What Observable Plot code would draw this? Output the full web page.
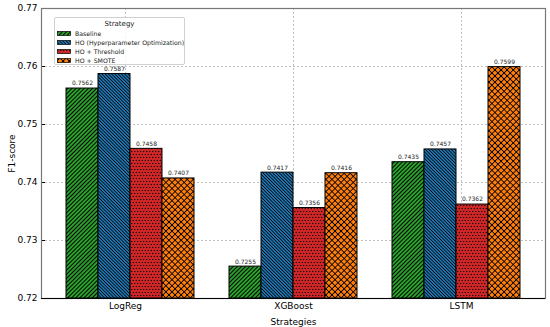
<!DOCTYPE html>
<html>
<head>
<meta charset="utf-8">
<script src="https://cdn.jsdelivr.net/npm/d3@7"></script>
<script src="https://cdn.jsdelivr.net/npm/@observablehq/plot@0.6"></script>
<style>
  html, body { margin: 0; padding: 0; background: #fff; }
  #wrap { position: relative; width: 550px; height: 327px; font-family: "DejaVu Sans", sans-serif; }
  #wrap > svg { position: absolute; left: 0; top: 0; }
  #legend { position: absolute; left: 54px; top: 17px; width: 131px; height: 48px; box-sizing: border-box;
    border: 1px solid #d0d0d0; border-radius: 2px; background: rgba(255,255,255,0.8); font-size: 6.2px; color: #222;
    white-space: nowrap; }
  #legend .title { text-align: center; margin-top: 1px; height: 10px; line-height: 10px; font-size: 7px; }
  #legend .row { display: flex; align-items: center; height: 9px; line-height: 9px; padding-left: 2px; }
  #legend .row svg { margin-right: 4px; flex: none; }
</style>
</head>
<body>
<svg width="0" height="0" style="position:absolute">
  <defs>
    <pattern id="p0" patternUnits="userSpaceOnUse" width="2.9" height="2.9" patternTransform="rotate(45)">
      <rect width="2.9" height="2.9" fill="#2ca02c"/>
      <line x1="1.45" y1="0" x2="1.45" y2="2.9" stroke="#000" stroke-width="0.95"/>
    </pattern>
    <pattern id="p1" patternUnits="userSpaceOnUse" width="2.3" height="2.3" patternTransform="rotate(-45)">
      <rect width="2.3" height="2.3" fill="#1f77b4"/>
      <line x1="1.15" y1="0" x2="1.15" y2="2.3" stroke="#000" stroke-width="0.8"/>
    </pattern>
    <pattern id="p2" patternUnits="userSpaceOnUse" width="3" height="6">
      <rect width="3" height="6" fill="#d62728"/>
      <circle cx="0.75" cy="1.5" r="0.7" fill="#000"/>
      <circle cx="2.25" cy="4.5" r="0.7" fill="#000"/>
    </pattern>
    <pattern id="p3" patternUnits="userSpaceOnUse" width="4.3" height="4.3" patternTransform="rotate(45)">
      <rect width="4.3" height="4.3" fill="#ff7f0e"/>
      <line x1="2.15" y1="0" x2="2.15" y2="4.3" stroke="#000" stroke-width="0.9"/>
      <line x1="0" y1="2.15" x2="4.3" y2="2.15" stroke="#000" stroke-width="0.9"/>
    </pattern>
  </defs>
</svg>
<div id="wrap"></div>
<script>
const models = ["LogReg", "XGBoost", "LSTM"];
const strategies = ["Baseline", "HO (Hyperparameter Optimization)", "HO + Threshold", "HO + SMOTE"];
const baseline = [0.7562, 0.7255, 0.7435];
const hoOptimization = [0.7587, 0.7417, 0.7457];
const hoThreshold = [0.7458, 0.7356, 0.7362];
const hoSmote = [0.7407, 0.7416, 0.7599];
const yTicks = [0.72, 0.73, 0.74, 0.75, 0.76, 0.77];
const patternUrls = ["url(#p0)", "url(#p1)", "url(#p2)", "url(#p3)"];

const series = [baseline, hoOptimization, hoThreshold, hoSmote];
const data = [];
models.forEach((m, i) => strategies.forEach((s, j) => data.push({model: m, strategy: s, value: series[j][i]})));

const W = 550, H = 327;
const margins = {marginLeft: 41, marginRight: 5, marginTop: 8, marginBottom: 29};
const bandOpts = {domain: models, paddingInner: 0.196, paddingOuter: 0.144};
const yDomain = [0.72, 0.77];
const font = {fontFamily: "DejaVu Sans", fontSize: "9px", color: "#000", background: "transparent"};

const back = Plot.plot({
  width: W, height: H, ...margins,
  style: font,
  x: {...bandOpts, label: "Strategies"},
  y: {domain: yDomain, label: "F1-score"},
  marks: [
    Plot.gridX({stroke: "#999", strokeOpacity: 0.6, strokeDasharray: "2,2"}),
    Plot.gridY({ticks: yTicks, stroke: "#999", strokeOpacity: 0.6, strokeDasharray: "2,2"}),
    Plot.axisY({ticks: yTicks, tickFormat: d3.format(".2f"), tickSize: -4, tickPadding: 8,
      label: "F1-score", labelAnchor: "center", labelOffset: 33, labelArrow: "none", fontSize: 9}),
    Plot.axisX({tickSize: 0, tickPadding: 4, label: "Strategies", labelAnchor: "center", labelOffset: 26, labelArrow: "none"}),
    Plot.frame({stroke: "#777", strokeWidth: 1.2}),
    Plot.ruleY([yDomain[0]], {stroke: "#000", strokeWidth: 1.2})
  ]
});

const front = Plot.plot({
  width: W, height: H, ...margins,
  style: font,
  fx: {...bandOpts, axis: null, label: null},
  x: {domain: strategies, padding: 0, axis: null},
  y: {domain: yDomain, axis: null},
  color: {domain: strategies, range: patternUrls},
  marks: [
    Plot.barY(data, {fx: "model", x: "strategy", y1: yDomain[0], y2: "value", fill: "strategy", stroke: "#000", strokeWidth: 1}),
    Plot.text(data, {fx: "model", x: "strategy", y: "value", text: d => d.value.toFixed(4), dy: -5, fontSize: 6, fill: "#222"})
  ]
});

const wrap = document.getElementById("wrap");
wrap.appendChild(back);
wrap.appendChild(front);

const legend = document.createElement("div");
legend.id = "legend";
let html = '<div class="title">Strategy</div>';
strategies.forEach((s, i) => {
  html += `<div class="row"><svg width="14" height="5"><rect x="0.5" y="0.5" width="13" height="4" fill="${patternUrls[i]}" stroke="#000" stroke-width="0.7"/></svg><span>${s}</span></div>`;
});
legend.innerHTML = html;
wrap.appendChild(legend);
</script>
</body>
</html>
